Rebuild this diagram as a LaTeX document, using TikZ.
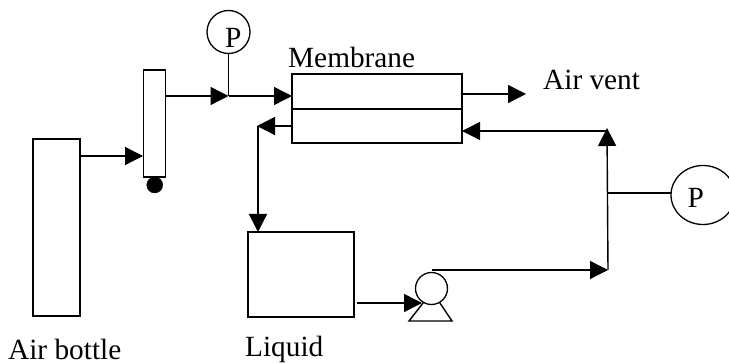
\documentclass[tikz,border=0pt]{standalone}
\usepackage{fontspec}
\setmainfont{Liberation Serif}
\usetikzlibrary{arrows.meta,shapes.geometric}
\tikzset{
  x=1pt,y=-1pt,
  box/.style={draw,line width=1.4pt,minimum width=#1,inner sep=0pt,outer sep=0pt},
  lbl/.style={font=\fontsize{29.3}{32}\selectfont,inner sep=0pt,anchor=base west},
  gauge/.style={draw,line width=1.3pt,inner sep=0pt,outer sep=0pt},
  pipe/.style={line width=1.4pt},
  flow/.style={pipe,-{Triangle[length=18pt,width=18pt]}},
}
\begin{document}
\begin{tikzpicture}
\useasboundingbox (0,0) rectangle (729,363);
% vessels
\node[box=47pt,minimum height=177pt] (bottle) at (56.5,227.5) {};
\node[box=22pt,minimum height=107pt] (column) at (154.3,123.5) {};
\node[draw,fill=black,circle,minimum size=16pt,inner sep=0pt,outer sep=0pt] (ball) at (154.7,185) {};
\node[box=170pt,minimum height=35pt] (memtop) at (377,91.5) {};
\node[box=170pt,minimum height=34pt] (membot) at (377,126) {};
\node[box=106pt,minimum height=85pt] (tank) at (301,274.5) {};
% pump
\node[draw,circle,line width=1.3pt,minimum size=32pt,inner sep=0pt,outer sep=0pt] (pump) at (431.5,288.5) {};
\coordinate (legL) at (409,321);
\coordinate (legR) at (452,321);
\draw[pipe,line join=miter] (pump.240) -- (legL) -- (legR) -- (pump.300);
% gauges
\node[gauge,circle,minimum size=43pt] (p1) at (228.5,32) {};
\node[lbl] (p1t) at (225,48) {P};
\node[gauge,ellipse,minimum width=64pt,minimum height=59pt] (p2) at (703,195) {};
\node[lbl] (p2t) at (687.5,208) {P};
% junctions
\coordinate (j0) at (143,156);
\coordinate (b0) at (80,156);
\coordinate (j1) at (228.5,96);
\coordinate (c1) at (165,96);
\coordinate (m1) at (292,96);
\coordinate (ret) at (257,126);
\coordinate (m2) at (292,126);
\coordinate (drop) at (258,126);
\coordinate (tanktop) at (258,232);
\coordinate (vent0) at (462,94);
\coordinate (vent1) at (526,94);
\coordinate (corner) at (608,270);
\coordinate (top) at (607,131);
\coordinate (apex) at (607,128);
\coordinate (m3) at (462,131);
\coordinate (tap) at (607,193);
\coordinate (t0) at (357,303);
\coordinate (t1) at (422,303);
\coordinate (pout) at (432,270);
% connectors
\draw[flow] (b0) -- (j0);
\draw[flow] (c1) -- (j1);
\draw[flow] (j1) -- (m1);
\draw[pipe] (p1.south) -- (j1);
\draw[flow] (m2) -- (ret);
\draw[flow] (drop) -- (tanktop);
\draw[flow] (vent0) -- (vent1);
\draw[flow] (t0) -- (t1);
\draw[flow] (pout) -- (corner);
\draw[flow] (corner) -- (apex);
\draw[flow] (top) -- (m3);
\draw[pipe] (tap) -- (p2.west |- tap);
% labels
\node[lbl] (tmem) at (288,68) {Membrane};
\node[lbl] (tvent) at (543,90) {Air vent};
\node[lbl] (tair) at (8,360) {Air bottle};
\node[lbl] (tliq) at (245,357) {Liquid};
\end{tikzpicture}
\end{document}
